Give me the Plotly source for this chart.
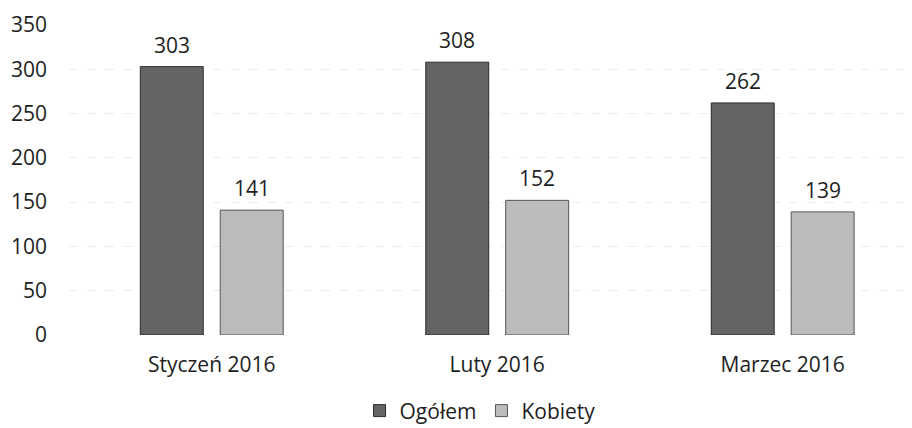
import plotly.graph_objects as go

categories = ["Styczeń 2016", "Luty 2016", "Marzec 2016"]
ogolem = [303, 308, 262]
kobiety = [141, 152, 139]
y_ticks = [0, 50, 100, 150, 200, 250, 300, 350]

font_family = "Open Sans, Noto Sans, sans-serif"
fs = 21

fig = go.Figure()
fig.add_trace(go.Bar(
    name="Ogółem", x=categories, y=ogolem,
    marker=dict(color="#646464", line=dict(color="#2a2a2a", width=1)),
))
fig.add_trace(go.Bar(
    name="Kobiety", x=categories, y=kobiety,
    marker=dict(color="#bcbcbc", line=dict(color="#555555", width=1)),
))

# value labels above bars
for series, shift in ((ogolem, -40), (kobiety, 40)):
    for cat, val in zip(categories, series):
        fig.add_annotation(x=cat, y=val, text=str(val), showarrow=False,
                           xshift=shift, yshift=6, yanchor="bottom",
                           font=dict(size=fs, color="#1e1e1e", family=font_family))

fig.update_layout(
    width=912, height=428,
    margin=dict(l=61, r=0, t=17, b=101, autoexpand=False),
    paper_bgcolor="white", plot_bgcolor="white",
    barmode="group", bargap=0.44, bargroupgap=0.2125,
    font=dict(family=font_family, size=fs, color="#1e1e1e"),
    showlegend=True,
    legend=dict(orientation="h", x=0.483, xanchor="center", y=-0.245, yanchor="middle",
                font=dict(size=fs), itemwidth=30, traceorder="normal"),
    xaxis=dict(range=[-0.5, 2.481], showgrid=False, showline=False, ticks="",
               ticklabelstandoff=15, tickfont=dict(size=fs), automargin=False),
    yaxis=dict(range=[0, 350], tickvals=y_ticks, showgrid=True, gridcolor="#ececec",
               griddash="dash", gridwidth=1, zeroline=False, showline=False,
               ticks="", ticklabelstandoff=21, tickfont=dict(size=fs), automargin=False),
)

fig.write_html("out.html")
